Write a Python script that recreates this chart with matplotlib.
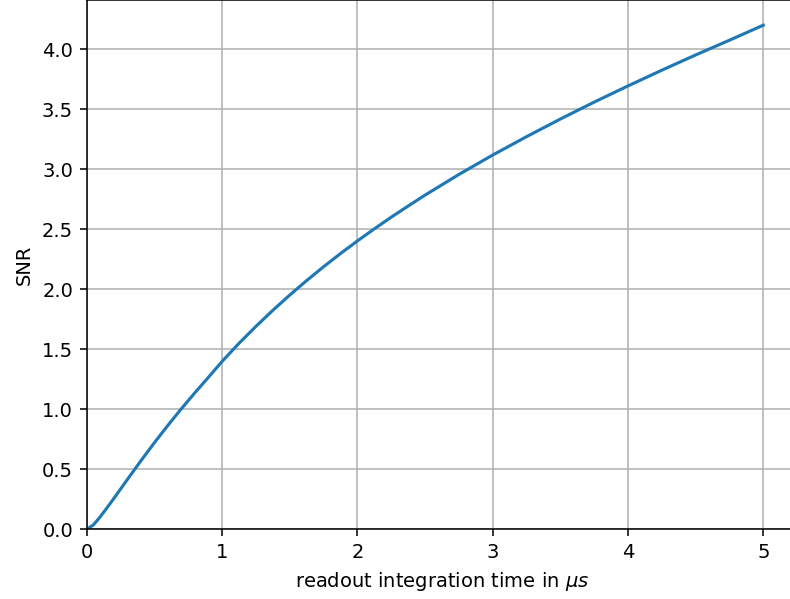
import numpy as np
import matplotlib
matplotlib.use("Agg")
from matplotlib import pyplot as plt

# readout integration time (us) and resulting SNR
t_int = [0.0, 0.05, 0.1, 0.15, 0.2, 0.3, 0.4, 0.5, 0.6, 0.7, 0.8, 0.9, 1.0,
         1.125, 1.25, 1.375, 1.5, 1.625, 1.75, 1.875, 2.0, 2.125, 2.25, 2.375, 2.5,
         2.75, 3.0, 3.25, 3.5, 3.75, 4.0, 4.25, 4.5, 4.75, 5.0]
snr = [0.0, 0.037, 0.104, 0.179, 0.256, 0.414, 0.570, 0.721, 0.866, 1.005, 1.138, 1.267, 1.398,
       1.549, 1.690, 1.824, 1.951, 2.072, 2.187, 2.297, 2.402, 2.503, 2.600, 2.693, 2.784,
       2.956, 3.118, 3.271, 3.418, 3.559, 3.694, 3.825, 3.952, 4.075, 4.200]

dpi = 140
fig = plt.figure(figsize=(790 / dpi, 599 / dpi), dpi=dpi)
ax = fig.add_axes([86.7 / 790, 69.7 / 599, 710.4 / 790, 529.3 / 599])

ax.plot(t_int, snr, lw=1.6)
ax.set_xlim(left=0)
ax.set_ylim(bottom=0)
ax.grid(True)
ax.set_xlabel(r'readout integration time in $\mu s$')
ax.set_ylabel('SNR')

fig.savefig('out.png', dpi=dpi)
